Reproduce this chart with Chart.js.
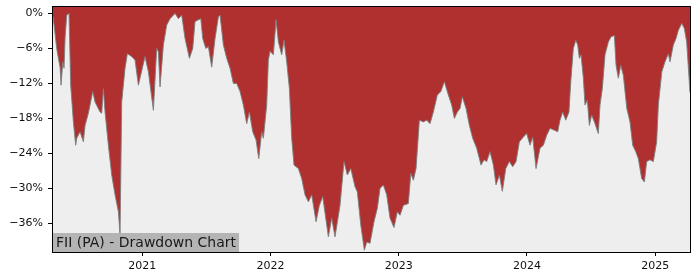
<!DOCTYPE html>
<html>
<head>
<meta charset="utf-8">
<script src="https://cdn.jsdelivr.net/npm/chart.js@4.4.1/dist/chart.umd.min.js"></script>
<style>
  html, body { margin: 0; padding: 0; background: #fff; }
  #wrap { width: 700px; height: 280px; position: relative; }
</style>
</head>
<body>
<div id="wrap"><canvas id="grafica"></canvas></div>
<script>
// drawdown of FII (PA), dates as decimal years
var dates = [2020.303, 2020.319, 2020.332, 2020.345, 2020.358, 2020.366, 2020.379, 2020.389, 2020.397, 2020.410,
  2020.428, 2020.441, 2020.462, 2020.480, 2020.488, 2020.514, 2020.540, 2020.553, 2020.579, 2020.613,
  2020.631, 2020.670, 2020.683, 2020.696, 2020.709, 2020.735, 2020.761, 2020.787, 2020.813, 2020.826,
  2020.839, 2020.865, 2020.883, 2020.917, 2020.943, 2020.969, 2021.021, 2021.047, 2021.086, 2021.112,
  2021.125, 2021.138, 2021.164, 2021.190, 2021.216, 2021.255, 2021.281, 2021.307, 2021.333, 2021.367,
  2021.393, 2021.411, 2021.437, 2021.456, 2021.471, 2021.495, 2021.515, 2021.541, 2021.567, 2021.593,
  2021.606, 2021.632, 2021.658, 2021.684, 2021.710, 2021.736, 2021.762, 2021.788, 2021.814, 2021.835,
  2021.861, 2021.887, 2021.908, 2021.931, 2021.944, 2021.970, 2021.983, 2021.996, 2022.022, 2022.043,
  2022.061, 2022.087, 2022.105, 2022.126, 2022.147, 2022.165, 2022.183, 2022.217, 2022.243, 2022.269,
  2022.295, 2022.321, 2022.355, 2022.381, 2022.407, 2022.451, 2022.477, 2022.503, 2022.542, 2022.573,
  2022.599, 2022.626, 2022.659, 2022.677, 2022.704, 2022.732, 2022.750, 2022.776, 2022.807, 2022.833,
  2022.854, 2022.880, 2022.906, 2022.932, 2022.963, 2022.989, 2023.010, 2023.036, 2023.075, 2023.094,
  2023.114, 2023.135, 2023.161, 2023.192, 2023.218, 2023.244, 2023.270, 2023.301, 2023.328, 2023.356,
  2023.387, 2023.413, 2023.434, 2023.457, 2023.478, 2023.496, 2023.525, 2023.551, 2023.577, 2023.608,
  2023.642, 2023.665, 2023.686, 2023.712, 2023.738, 2023.759, 2023.785, 2023.808, 2023.835, 2023.863,
  2023.889, 2023.915, 2023.941, 2023.972, 2023.998, 2024.024, 2024.045, 2024.071, 2024.102, 2024.128,
  2024.154, 2024.180, 2024.211, 2024.240, 2024.258, 2024.279, 2024.303, 2024.328, 2024.342, 2024.362,
  2024.381, 2024.396, 2024.409, 2024.422, 2024.440, 2024.453, 2024.471, 2024.487, 2024.505, 2024.531,
  2024.557, 2024.570, 2024.588, 2024.609, 2024.635, 2024.656, 2024.682, 2024.695, 2024.713, 2024.732,
  2024.752, 2024.779, 2024.804, 2024.825, 2024.849, 2024.869, 2024.895, 2024.916, 2024.934, 2024.960,
  2024.986, 2025.012, 2025.025, 2025.052, 2025.077, 2025.103, 2025.116, 2025.142, 2025.163, 2025.181,
  2025.208, 2025.228, 2025.246, 2025.272];

var drawdown = [-0.5, -3.5, -6, -7.7, -9.2, -12.3, -8.3, -9.4, -4.3, -0.3,
  0, -12.3, -18.6, -22.6, -21.4, -20.3, -22, -19.2, -17.1, -13.4,
  -15.2, -16.9, -17.1, -12.9, -16.9, -22.6, -27.7, -31.1, -34, -38,
  -15.2, -9.4, -6.9, -7.4, -8, -12.3, -7.4, -10, -16.6, -6,
  -6.6, -12.6, -5.4, -2, -0.9, 0, -0.9, -0.3, -4.3, -7.7,
  -6, -1.4, -1.1, -0.9, -4.3, -6, -5.7, -9.2, -4.3, -0.6,
  -0.3, -5.4, -7.7, -9.4, -12, -12, -13.4, -15.7, -18.9, -16.9,
  -20.3, -21.7, -24.9, -20.3, -21.4, -15.7, -8, -6.5, -7.1, -1.1,
  -4.9, -7.1, -4.6, -8.3, -12.9, -21.4, -26, -26.6, -28.3, -31.1,
  -32.3, -31.1, -35.7, -32.9, -31.4, -38.3, -35.1, -38.3, -32.9, -25.4,
  -27.7, -26.6, -29.7, -30.6, -36.3, -40.6, -39.2, -39.4, -35.7, -33.4,
  -30, -29.4, -31.1, -35.1, -36.7, -34, -34.6, -32.9, -32.6, -27.4,
  -28.6, -26.6, -18.3, -18.6, -18.3, -18.9, -16.9, -14, -13.4, -11.7,
  -14, -15.7, -18, -16.9, -16.3, -14.3, -16.3, -19.2, -21.4, -23.1,
  -26, -25.1, -25.4, -23.7, -26, -29.4, -27.7, -30.5, -26.6, -25.4,
  -26.3, -25.4, -22, -21.2, -20.6, -22.6, -21.2, -26.6, -23.1, -22.6,
  -20.9, -19.7, -20, -20.3, -18.3, -16.9, -18.3, -16.9, -11.7, -6,
  -4.6, -5.4, -7.7, -7.1, -11.1, -15.7, -14.9, -19.2, -17.4, -18.9,
  -20.6, -15.7, -12.9, -7.1, -4.9, -4, -3.8, -8.9, -11.1, -8.9,
  -10.6, -16.3, -18.6, -22.6, -23.7, -24.9, -28.3, -28.9, -25.4, -25.1,
  -25.4, -22, -15.7, -10, -8.3, -6.9, -8.3, -5.4, -4.3, -2.9,
  -1.7, -2.6, -4.9, -13.6];

var yearTicks = [2021, 2022, 2023, 2024, 2025];
var pctTicks = [0, -6, -12, -18, -24, -30, -36];
var titulo = "FII (PA) - Drawdown Chart";

var puntos = dates.map(function (d, i) { return { x: d, y: drawdown[i] }; });

var fondo = {
  id: 'fondo',
  beforeDraw: function (chart) {
    var a = chart.chartArea, c = chart.ctx;
    c.save();
    c.fillStyle = '#eeeeee';
    c.fillRect(a.left, a.top, a.right - a.left, a.bottom - a.top);
    c.restore();
  },
  afterDraw: function (chart) {
    var a = chart.chartArea, c = chart.ctx;
    c.save();
    c.font = '14px "DejaVu Sans"';
    var w = c.measureText(titulo).width;
    c.fillStyle = '#b4b4b4';
    c.fillRect(a.left, a.bottom - 19, w + 6, 19);
    c.fillStyle = '#1a1a1a';
    c.textBaseline = 'middle';
    c.fillText(titulo, a.left + 3, a.bottom - 9);
    c.strokeStyle = '#000';
    c.lineWidth = 1;
    c.strokeRect(a.left - 0.5, a.top - 0.5, a.right - a.left + 1, a.bottom - a.top + 1);
    c.restore();
  }
};

function sinPadding(s) {
  s.paddingTop = 0; s.paddingBottom = 0; s.paddingLeft = 0; s.paddingRight = 0;
}

var ctx = document.getElementById("grafica").getContext('2d');
var myChart = new Chart(ctx, {
  type: 'line',
  data: {
    datasets: [{
      label: 'Drawdown',
      data: puntos,
      backgroundColor: '#b03030',
      borderColor: 'rgba(125,125,125,0.9)',
      borderWidth: 1,
      pointRadius: 0,
      tension: 0,
      fill: 'end'
    }]
  },
  options: {
    responsive: true,
    maintainAspectRatio: false,
    animation: false,
    layout: { padding: { top: 7, right: 10, left: 0, bottom: 0 } },
    plugins: { legend: { display: false }, tooltip: { enabled: false } },
    scales: {
      x: {
        type: 'linear',
        min: 2020.303,
        max: 2025.272,
        afterBuildTicks: function (s) { s.ticks = yearTicks.map(function (v) { return { value: v }; }); },
        afterFit: function (s) { s.height = 28; sinPadding(s); },
        grid: { drawOnChartArea: false, drawTicks: true, tickLength: 4, color: '#000' },
        border: { display: false },
        ticks: {
          color: '#111',
          font: { family: 'DejaVu Sans', size: 11 },
          padding: 4,
          maxRotation: 0,
          callback: function (v) { return String(v); }
        }
      },
      y: {
        min: -40.9,
        max: 1.1,
        afterBuildTicks: function (s) { s.ticks = pctTicks.map(function (v) { return { value: v }; }); },
        afterFit: function (s) { s.width = 53; sinPadding(s); },
        grid: { drawOnChartArea: false, drawTicks: true, tickLength: 5, color: '#000' },
        border: { display: false },
        ticks: {
          color: '#111',
          font: { family: 'DejaVu Sans', size: 11 },
          padding: 5,
          callback: function (v) { return (v < 0 ? '\u2212' + Math.abs(v) : v) + '%'; }
        }
      }
    }
  },
  plugins: [fondo]
});
</script>
</body>
</html>
